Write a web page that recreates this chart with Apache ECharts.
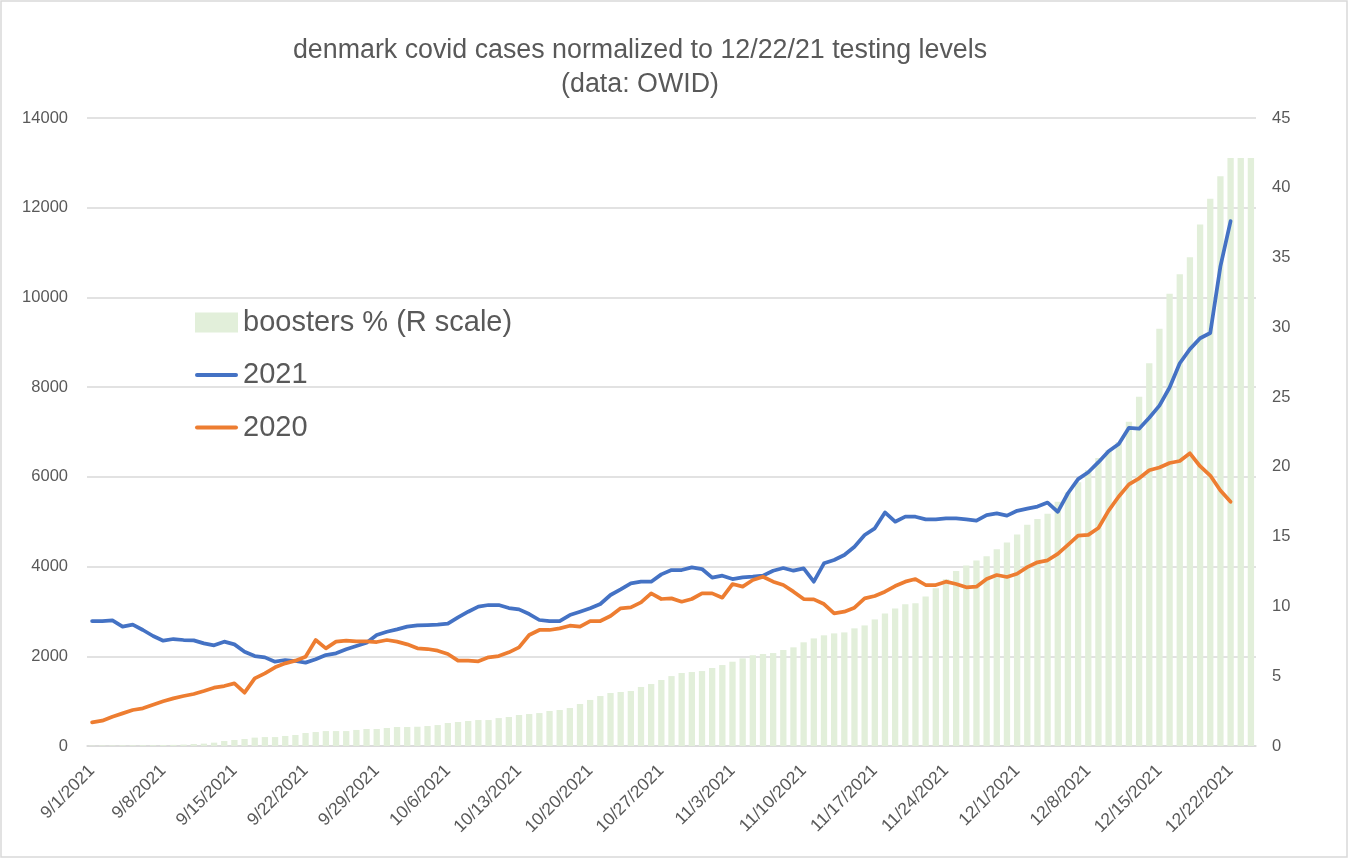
<!DOCTYPE html>
<html>
<head>
<meta charset="utf-8">
<script src="https://cdn.jsdelivr.net/npm/echarts@6/dist/echarts.min.js"></script>
<style>
html,body{margin:0;padding:0;background:#fff;}
#chart{width:1349px;height:859px;}
</style>
</head>
<body>
<div id="chart"></div>
<script>
const titleText = 'denmark covid cases normalized to 12/22/21 testing levels\n(data: OWID)';

const dates = [
 '9/1/2021','9/2/2021','9/3/2021','9/4/2021','9/5/2021','9/6/2021','9/7/2021','9/8/2021','9/9/2021','9/10/2021',
 '9/11/2021','9/12/2021','9/13/2021','9/14/2021','9/15/2021','9/16/2021','9/17/2021','9/18/2021','9/19/2021','9/20/2021',
 '9/21/2021','9/22/2021','9/23/2021','9/24/2021','9/25/2021','9/26/2021','9/27/2021','9/28/2021','9/29/2021','9/30/2021',
 '10/1/2021','10/2/2021','10/3/2021','10/4/2021','10/5/2021','10/6/2021','10/7/2021','10/8/2021','10/9/2021','10/10/2021',
 '10/11/2021','10/12/2021','10/13/2021','10/14/2021','10/15/2021','10/16/2021','10/17/2021','10/18/2021','10/19/2021','10/20/2021',
 '10/21/2021','10/22/2021','10/23/2021','10/24/2021','10/25/2021','10/26/2021','10/27/2021','10/28/2021','10/29/2021','10/30/2021',
 '10/31/2021','11/1/2021','11/2/2021','11/3/2021','11/4/2021','11/5/2021','11/6/2021','11/7/2021','11/8/2021','11/9/2021',
 '11/10/2021','11/11/2021','11/12/2021','11/13/2021','11/14/2021','11/15/2021','11/16/2021','11/17/2021','11/18/2021','11/19/2021',
 '11/20/2021','11/21/2021','11/22/2021','11/23/2021','11/24/2021','11/25/2021','11/26/2021','11/27/2021','11/28/2021','11/29/2021',
 '11/30/2021','12/1/2021','12/2/2021','12/3/2021','12/4/2021','12/5/2021','12/6/2021','12/7/2021','12/8/2021','12/9/2021',
 '12/10/2021','12/11/2021','12/12/2021','12/13/2021','12/14/2021','12/15/2021','12/16/2021','12/17/2021','12/18/2021','12/19/2021',
 '12/20/2021','12/21/2021','12/22/2021','12/23/2021','12/24/2021'
];

const boostersPct = [
 0.03,0.04,0.04,0.05,0.05,0.06,0.06,0.07,0.08,0.1,
 0.14,0.17,0.24,0.36,0.43,0.50,0.60,0.64,0.64,0.72,
 0.79,0.93,1.0,1.07,1.07,1.07,1.15,1.22,1.22,1.29,
 1.36,1.36,1.38,1.43,1.50,1.65,1.72,1.79,1.86,1.86,
 2.0,2.08,2.22,2.29,2.36,2.51,2.58,2.72,3.01,3.30,
 3.58,3.80,3.87,3.94,4.23,4.44,4.73,5.01,5.23,5.30,
 5.37,5.59,5.80,6.04,6.28,6.50,6.59,6.66,6.88,7.07,
 7.43,7.71,7.93,8.07,8.14,8.43,8.64,9.07,9.50,9.86,
 10.15,10.22,10.72,11.30,11.94,12.54,12.94,13.30,13.59,14.09,
 14.59,15.16,15.86,16.26,16.64,17.51,18.17,18.90,19.77,20.63,
 21.21,21.79,23.24,25.03,27.43,29.89,32.41,33.80,35.02,37.36,
 39.21,40.83,42.14,42.14,42.14
];

const cases2021 = [
 2786,2786,2800,2660,2705,2586,2452,2348,2385,2363,
 2355,2288,2244,2326,2266,2103,2006,1976,1880,1917,
 1895,1858,1932,2028,2066,2155,2229,2303,2474,2548,
 2600,2660,2690,2697,2705,2727,2868,2994,3106,3143,
 3143,3076,3046,2942,2809,2786,2786,2920,2994,3069,
 3165,3366,3492,3626,3663,3663,3826,3923,3923,3982,
 3945,3752,3797,3722,3760,3774,3797,3908,3968,3908,
 3960,3663,4072,4146,4257,4443,4703,4852,5208,5000,
 5112,5112,5052,5052,5075,5075,5052,5023,5149,5186,
 5135,5243,5292,5337,5427,5220,5634,5949,6102,6327,
 6570,6732,7092,7074,7317,7587,7992,8532,8847,9090,
 9207,10692,11700
];

const cases2020 = [
 528,565,654,728,802,840,921,996,1062,1115,
 1159,1226,1300,1337,1397,1189,1508,1620,1753,1843,
 1902,1991,2363,2177,2326,2348,2333,2333,2318,2363,
 2326,2266,2177,2162,2125,2051,1902,1902,1887,1976,
 2006,2088,2199,2474,2586,2586,2623,2682,2660,2786,
 2786,2898,3069,3091,3202,3403,3277,3291,3217,3277,
 3403,3403,3306,3611,3552,3700,3774,3663,3589,3440,
 3277,3269,3165,2957,2994,3083,3291,3343,3440,3566,
 3663,3722,3589,3589,3663,3611,3537,3552,3722,3812,
 3768,3840,3987,4095,4140,4284,4482,4689,4707,4860,
 5247,5562,5832,5967,6147,6210,6309,6354,6525,6237,
 6030,5697,5445
];

const seriesNames = ['boosters % (R scale)', '2021', '2020'];

const txt = '#595959';
const font = '"Liberation Sans", Arial, sans-serif';
const lineIcon = 'path://M2,0 L41,0 A2,2 0 0 1 41,4 L2,4 A2,2 0 0 1 2,0 Z';

const chart = echarts.init(document.getElementById('chart'), null, {renderer: 'canvas'});
chart.setOption({
  animation: false,
  backgroundColor: '#ffffff',
  textStyle: {fontFamily: font},
  title: {
    text: titleText,
    left: 640, top: 34, padding: 0,
    textAlign: 'center',
    textStyle: {fontFamily: font, fontSize: 26.8, fontWeight: 'normal', color: txt, lineHeight: 34}
  },
  graphic: [{
    type: 'rect', silent: true, z: -10,
    shape: {x: 1, y: 1, width: 1346, height: 856},
    style: {fill: 'none', stroke: '#d9d9d9', lineWidth: 1.5}
  }],
  legend: {
    orient: 'vertical',
    left: 195, top: 308,
    itemWidth: 43, itemHeight: 20, itemGap: 23.5,
    padding: 0,
    textStyle: {fontFamily: font, fontSize: 29, color: txt},
    data: [
      {name: seriesNames[0], icon: 'rect'},
      {name: seriesNames[1], icon: lineIcon},
      {name: seriesNames[2], icon: lineIcon}
    ]
  },
  grid: {left: 87, right: 93, top: 118, bottom: 113},
  xAxis: {
    type: 'category',
    data: dates,
    boundaryGap: true,
    axisLine: {lineStyle: {color: '#d9d9d9', width: 1.5}},
    axisTick: {show: false},
    axisLabel: {interval: 6, rotate: 45, margin: 22, color: txt, fontSize: 17.5, fontFamily: font}
  },
  yAxis: [
    {
      type: 'value', min: 0, max: 14000, interval: 2000,
      axisLine: {show: false}, axisTick: {show: false},
      axisLabel: {color: txt, fontSize: 16.5, margin: 19, fontFamily: font, formatter: function (v) { return String(v); }},
      splitLine: {lineStyle: {color: '#d9d9d9', width: 1.5}}
    },
    {
      type: 'value', min: 0, max: 45, interval: 5,
      axisLine: {show: false}, axisTick: {show: false},
      axisLabel: {color: txt, fontSize: 16.5, margin: 16, fontFamily: font},
      splitLine: {show: false}
    }
  ],
  series: [
    {
      name: seriesNames[0], type: 'bar', yAxisIndex: 1,
      data: boostersPct, barWidth: '62%',
      itemStyle: {color: '#e2efda'}, z: 1
    },
    {
      name: seriesNames[1], type: 'line', yAxisIndex: 0,
      data: cases2021, symbol: 'none', smooth: false,
      lineStyle: {color: '#4472c4', width: 3.75, cap: 'round', join: 'round'},
      itemStyle: {color: '#4472c4'}, z: 3
    },
    {
      name: seriesNames[2], type: 'line', yAxisIndex: 0,
      data: cases2020, symbol: 'none', smooth: false,
      lineStyle: {color: '#ed7d31', width: 3.75, cap: 'round', join: 'round'},
      itemStyle: {color: '#ed7d31'}, z: 3
    }
  ]
});
</script>
</body>
</html>
